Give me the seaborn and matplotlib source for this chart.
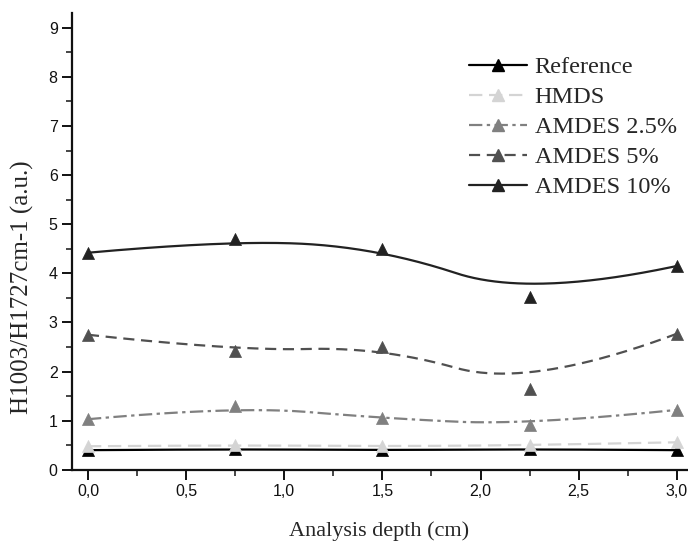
import numpy as np
import pandas as pd
import matplotlib
matplotlib.use("Agg")
import matplotlib.pyplot as plt
from matplotlib.lines import Line2D
from matplotlib.ticker import MultipleLocator, FuncFormatter
import seaborn as sns

depth = [0.0, 0.75, 1.5, 2.25, 3.0]
series_names = ["Reference", "HMDS", "AMDES 2.5%", "AMDES 5%", "AMDES 10%"]
ref_vals = [0.40, 0.42, 0.40, 0.42, 0.40]
hmds_vals = [0.48, 0.50, 0.48, 0.50, 0.56]
amdes25_vals = [1.03, 1.30, 1.05, 0.91, 1.22]
amdes5_vals = [2.75, 2.42, 2.50, 1.65, 2.77]
amdes10_vals = [4.42, 4.69, 4.50, 3.51, 4.15]

values = [ref_vals, hmds_vals, amdes25_vals, amdes5_vals, amdes10_vals]
colors = ["#000000", "#d4d4d4", "#808080", "#505050", "#222222"]
dashes = [None, (6, 3), (6, 2, 1.5, 2), (5, 3), None]


def bspline(xs, ys, n=300, k=2):
    xs = np.asarray(xs, float)
    ys = np.asarray(ys, float)
    m = len(xs)
    inner = np.arange(1, m - k)
    knots = np.concatenate([np.zeros(k + 1), inner, np.full(k + 1, m - k)]).astype(float)
    us = np.linspace(0, m - k, n)
    us[-1] -= 1e-9

    def basis(i, p, u):
        if p == 0:
            return 1.0 if knots[i] <= u < knots[i + 1] else 0.0
        a = 0.0
        d1 = knots[i + p] - knots[i]
        if d1 > 0:
            a += (u - knots[i]) / d1 * basis(i, p - 1, u)
        d2 = knots[i + p + 1] - knots[i + 1]
        if d2 > 0:
            a += (knots[i + p + 1] - u) / d2 * basis(i + 1, p - 1, u)
        return a

    B = np.array([[basis(i, k, u) for i in range(m)] for u in us])
    return B @ xs, B @ ys


sns.set_theme(style="ticks")
plt.rcParams["font.family"] = ["Liberation Sans", "DejaVu Sans"]

fig = plt.figure(figsize=(6.88, 5.45), dpi=100)
ax = fig.add_axes([0.105, 0.138, 0.893, 0.838])

handles = []
for name, vals, c, d in zip(series_names, values, colors, dashes):
    cx, cy = bspline(depth, vals)
    curve = pd.DataFrame({"x": cx, "y": cy})
    ls_kw = {} if d is None else {"dashes": d}
    ax.plot(curve["x"], curve["y"], color=c, lw=1.6, **ls_kw)
    pts = pd.DataFrame({"x": depth, "y": vals})
    sns.scatterplot(data=pts, x="x", y="y", ax=ax, marker="^", s=75,
                    color=c, edgecolor=c, linewidth=0.5, zorder=3, legend=False)
    h = Line2D([], [], color=c, lw=1.6, marker="^", markersize=8,
               markerfacecolor=c, markeredgecolor=c)
    if d is not None:
        h.set_dashes(d)
    handles.append(h)

ax.set_xlim(-0.08, 3.05)
ax.set_ylim(0, 9.3)
ax.xaxis.set_major_locator(MultipleLocator(0.5))
ax.xaxis.set_minor_locator(MultipleLocator(0.25))
ax.yaxis.set_major_locator(MultipleLocator(1))
ax.yaxis.set_minor_locator(MultipleLocator(0.5))
ax.xaxis.set_major_formatter(FuncFormatter(lambda v, p: f"{v:.1f}".replace(".", ",")))
ax.yaxis.set_major_formatter(FuncFormatter(lambda v, p: f"{v:.0f}"))

ax.tick_params(axis="both", which="major", direction="out", length=7, width=1.4,
               labelsize=11.5, colors="#111111")
ax.tick_params(axis="both", which="minor", direction="out", length=4, width=1.2)
for s in ["top", "right"]:
    ax.spines[s].set_visible(False)
for s in ["left", "bottom"]:
    ax.spines[s].set_linewidth(1.6)
    ax.spines[s].set_color("#111111")

serif = ["Liberation Serif", "DejaVu Serif"]
ax.set_xlabel("Analysis depth (cm)", family=serif, fontsize=16, labelpad=16)
ax.set_ylabel("H1003/H1727cm-1 (a.u.)", family=serif, fontsize=18)
ax.yaxis.set_label_coords(-0.062, 0.40)

leg = ax.legend(handles, series_names, loc="upper left",
                bbox_to_anchor=(469 / 688, 1 - 56 / 545), bbox_transform=fig.transFigure,
                frameon=False, prop={"family": serif, "size": 17.5},
                handlelength=2.4, handletextpad=0.3, labelspacing=0.33,
                borderpad=0, borderaxespad=0)

fig.savefig("out.png", dpi=100)
